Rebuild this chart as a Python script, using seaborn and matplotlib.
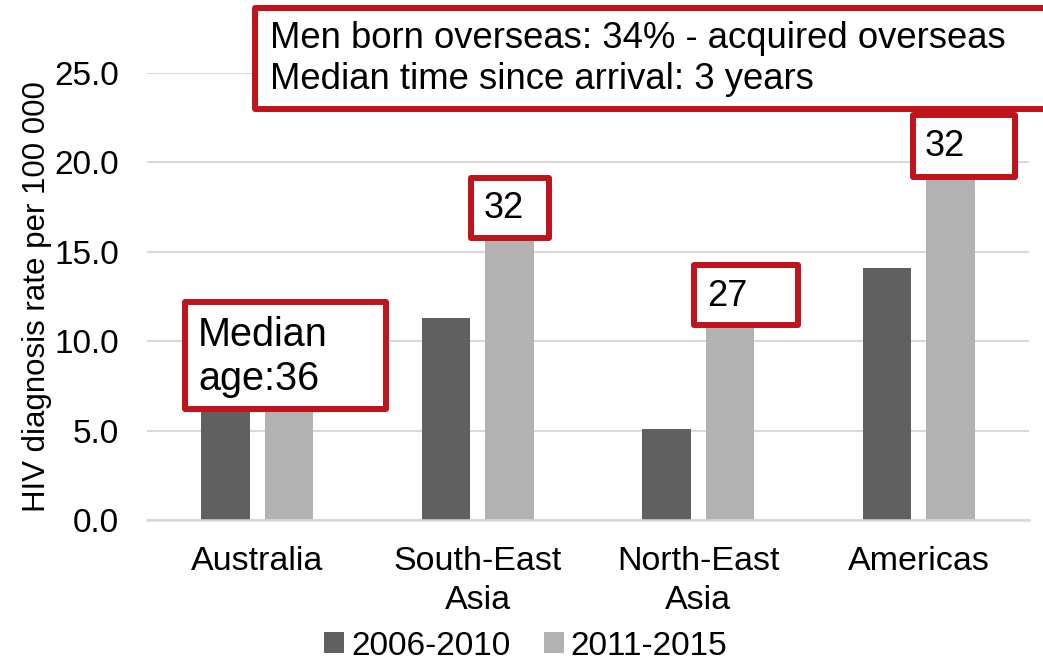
import matplotlib
matplotlib.use("Agg")
import matplotlib.pyplot as plt
from matplotlib.patches import Rectangle
import pandas as pd
import seaborn as sns

# --- data ---
regions = ["Australia", "South-East\nAsia", "North-East\nAsia", "Americas"]
periods = ["2006-2010", "2011-2015"]
rate_2006_2010 = [7.0, 11.3, 5.1, 14.1]
rate_2011_2015 = [6.8, 16.3, 11.2, 20.4]
y_ticks = [0, 5, 10, 15, 20, 25]

df = pd.DataFrame({
    "region": regions * 2,
    "period": [periods[0]] * 4 + [periods[1]] * 4,
    "rate": rate_2006_2010 + rate_2011_2015,
})

sns.set_theme(style="white")
plt.rcParams["font.family"] = ["Liberation Sans", "DejaVu Sans"]
plt.rcParams["text.color"] = "black"
plt.rcParams["xtick.color"] = "black"
plt.rcParams["ytick.color"] = "black"
plt.rcParams["axes.labelcolor"] = "black"

W, H = 1043, 664
fig = plt.figure(figsize=(W / 100, H / 100), dpi=100)
ax = fig.add_axes([147 / W, 1 - 520 / H, (1029 - 147) / W, (520 - 73) / H])

sns.barplot(data=df, x="region", y="rate", hue="period", order=regions,
            hue_order=periods, palette={periods[0]: "#606060", periods[1]: "#B2B2B2"},
            width=0.573, gap=0.23, edgecolor="none", linewidth=0, ax=ax, zorder=2)

ax.set_ylim(0, 25)
ax.set_yticks(y_ticks)
ax.set_yticklabels([f"{v:.1f}" for v in y_ticks], fontsize=24)
ax.tick_params(axis="x", labelsize=24.5, pad=19, length=0)
ax.tick_params(axis="y", pad=20, length=0)
ax.yaxis.grid(True, color="#D9D9D9", linewidth=1.5, zorder=0)
ax.set_axisbelow(True)
for side in ["top", "right", "left"]:
    ax.spines[side].set_visible(False)
ax.spines["bottom"].set_color("#D9D9D9")
ax.spines["bottom"].set_linewidth(1.8)
ax.set_xlabel("")
ax.set_ylabel("HIV diagnosis rate per 100 000", fontsize=22.5, labelpad=2)
for lbl in ax.get_xticklabels():
    lbl.set_linespacing(1.3)

sns.move_legend(ax, "center", bbox_to_anchor=(0.504, 0.027),
                bbox_transform=fig.transFigure, ncol=2, title=None, frameon=False,
                fontsize=24, handlelength=0.6, handleheight=0.6,
                handletextpad=0.2, columnspacing=1.0)

# --- red callout boxes (pixel positions, top-left origin) ---
red = "#C0141C"


def callout(x0, y0, x1, y1, tx, ty, text, size):
    fig.patches.append(Rectangle((x0 / W, 1 - y1 / H), (x1 - x0) / W, (y1 - y0) / H,
                                 transform=fig.transFigure, facecolor="white",
                                 edgecolor=red, linewidth=4.3, joinstyle="round",
                                 zorder=5))
    fig.text(tx / W, 1 - ty / H, text, fontsize=size, ha="left", va="center",
             linespacing=1.2, color="black", zorder=6)


callout(255, 8, 1060, 109, 270, 59, "Men born overseas: 34% - acquired overseas\nMedian time since arrival: 3 years", 26.3)
callout(185, 302, 386, 409, 198, 357, "Median\nage:36", 28.5)
callout(471, 178, 549, 238, 484, 208, "32", 26)
callout(694, 265, 798, 325, 707, 297, "27", 26)
callout(913, 115, 1015, 177, 925, 147, "32", 26)

fig.savefig("out.png", dpi=100)
